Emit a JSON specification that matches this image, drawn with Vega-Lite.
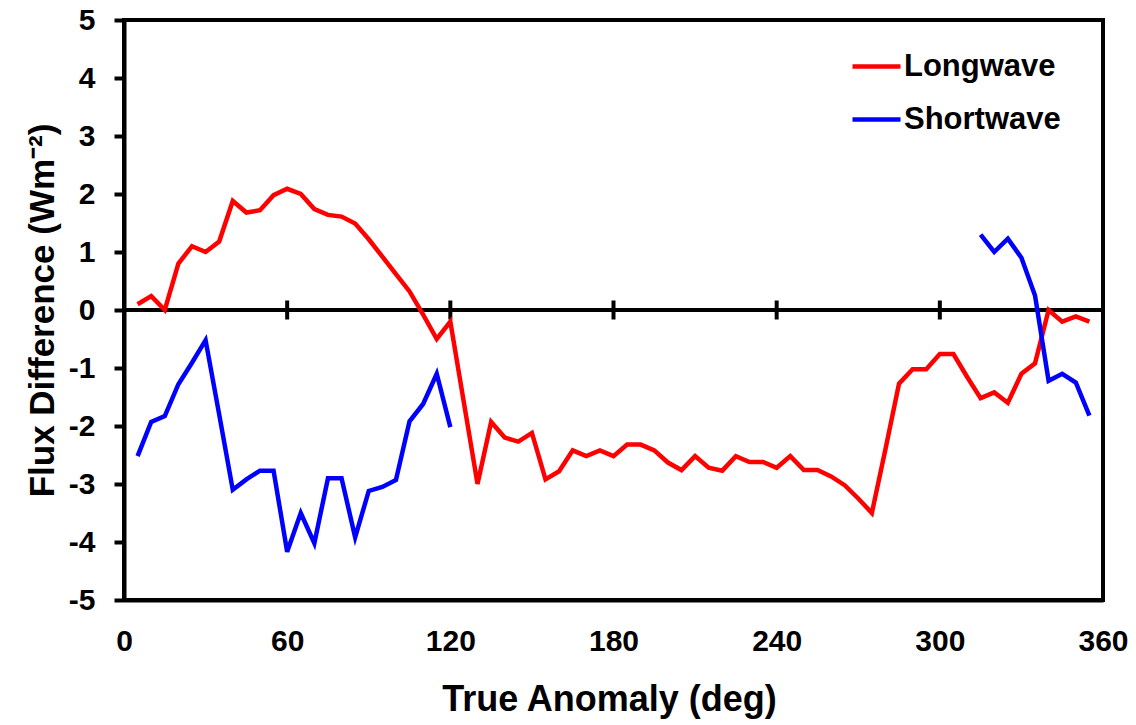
{
  "$schema": "https://vega.github.io/schema/vega-lite/v6.json",
  "width": 979,
  "height": 580,
  "autosize": {"type": "none"},
  "padding": {"left": 124, "top": 20, "right": 33, "bottom": 125},
  "background": "white",
  "config": {
    "view": {"stroke": "black", "strokeWidth": 4},
    "axis": {
      "grid": false,
      "domainColor": "black",
      "domainWidth": 4,
      "tickColor": "black",
      "tickWidth": 4,
      "labelFont": "Liberation Sans",
      "labelFontWeight": "bold",
      "labelFontSize": 30,
      "labelColor": "black",
      "titleFont": "Liberation Sans",
      "titleFontWeight": "bold",
      "titleColor": "black",
      "labelOverlap": false,
      "labelFlush": false
    },
    "legend": {
      "labelFont": "Liberation Sans",
      "labelFontWeight": "bold",
      "labelFontSize": 31,
      "labelColor": "black"
    }
  },
  "encoding": {
    "x": {
      "field": "x",
      "type": "quantitative",
      "scale": {"domain": [0, 360], "nice": false, "zero": false},
      "axis": {
        "title": "True Anomaly (deg)",
        "values": [0, 60, 120, 180, 240, 300, 360],
        "ticks": false,
        "tickSize": 0,
        "labelPadding": 26,
        "titleFontSize": 36,
        "titleBaseline": "alphabetic",
        "titleY": 110,
        "titleX": 485
      }
    },
    "y": {
      "field": "y",
      "type": "quantitative",
      "scale": {"domain": [-5, 5], "nice": false, "zero": false},
      "axis": {
        "title": "Flux Difference (Wm⁻²)",
        "values": [-5, -4, -3, -2, -1, 0, 1, 2, 3, 4, 5],
        "labelExpr": "'' + datum.value",
        "tickSize": 10,
        "labelPadding": 19,
        "titleFontSize": 35,
        "titleBaseline": "alphabetic",
        "titleAlign": "center",
        "titleAngle": -90,
        "titleX": -71,
        "titleY": 290
      }
    }
  },
  "layer": [
    {
      "data": {"values": [{"x": 0, "x2": 360, "y": 0}]},
      "mark": {"type": "rule", "color": "black", "strokeWidth": 4},
      "encoding": {"x2": {"field": "x2"}}
    },
    {
      "data": {"values": [{"x": 60, "y": 0}, {"x": 120, "y": 0}, {"x": 180, "y": 0}, {"x": 240, "y": 0}, {"x": 300, "y": 0}]},
      "mark": {"type": "tick", "orient": "vertical", "color": "black", "size": 19, "thickness": 4, "opacity": 1},
      "encoding": {}
    },
    {
      "data": {
        "values": [
          {"x": 5, "y": 0.1, "series": "Longwave", "seg": "L"},
          {"x": 10, "y": 0.24, "series": "Longwave", "seg": "L"},
          {"x": 15, "y": 0.0, "series": "Longwave", "seg": "L"},
          {"x": 20, "y": 0.8, "series": "Longwave", "seg": "L"},
          {"x": 25, "y": 1.1, "series": "Longwave", "seg": "L"},
          {"x": 30, "y": 1.0, "series": "Longwave", "seg": "L"},
          {"x": 35, "y": 1.18, "series": "Longwave", "seg": "L"},
          {"x": 40, "y": 1.88, "series": "Longwave", "seg": "L"},
          {"x": 45, "y": 1.68, "series": "Longwave", "seg": "L"},
          {"x": 50, "y": 1.72, "series": "Longwave", "seg": "L"},
          {"x": 55, "y": 1.98, "series": "Longwave", "seg": "L"},
          {"x": 60, "y": 2.09, "series": "Longwave", "seg": "L"},
          {"x": 65, "y": 2.0, "series": "Longwave", "seg": "L"},
          {"x": 70, "y": 1.74, "series": "Longwave", "seg": "L"},
          {"x": 75, "y": 1.64, "series": "Longwave", "seg": "L"},
          {"x": 80, "y": 1.61, "series": "Longwave", "seg": "L"},
          {"x": 85, "y": 1.49, "series": "Longwave", "seg": "L"},
          {"x": 90, "y": 1.22, "series": "Longwave", "seg": "L"},
          {"x": 95, "y": 0.92, "series": "Longwave", "seg": "L"},
          {"x": 100, "y": 0.62, "series": "Longwave", "seg": "L"},
          {"x": 105, "y": 0.32, "series": "Longwave", "seg": "L"},
          {"x": 110, "y": -0.08, "series": "Longwave", "seg": "L"},
          {"x": 115, "y": -0.5, "series": "Longwave", "seg": "L"},
          {"x": 120, "y": -0.2, "series": "Longwave", "seg": "L"},
          {"x": 125, "y": -1.6, "series": "Longwave", "seg": "L"},
          {"x": 130, "y": -3.0, "series": "Longwave", "seg": "L"},
          {"x": 135, "y": -1.93, "series": "Longwave", "seg": "L"},
          {"x": 140, "y": -2.2, "series": "Longwave", "seg": "L"},
          {"x": 145, "y": -2.27, "series": "Longwave", "seg": "L"},
          {"x": 150, "y": -2.12, "series": "Longwave", "seg": "L"},
          {"x": 155, "y": -2.92, "series": "Longwave", "seg": "L"},
          {"x": 160, "y": -2.78, "series": "Longwave", "seg": "L"},
          {"x": 165, "y": -2.42, "series": "Longwave", "seg": "L"},
          {"x": 170, "y": -2.52, "series": "Longwave", "seg": "L"},
          {"x": 175, "y": -2.42, "series": "Longwave", "seg": "L"},
          {"x": 180, "y": -2.52, "series": "Longwave", "seg": "L"},
          {"x": 185, "y": -2.32, "series": "Longwave", "seg": "L"},
          {"x": 190, "y": -2.32, "series": "Longwave", "seg": "L"},
          {"x": 195, "y": -2.42, "series": "Longwave", "seg": "L"},
          {"x": 200, "y": -2.63, "series": "Longwave", "seg": "L"},
          {"x": 205, "y": -2.76, "series": "Longwave", "seg": "L"},
          {"x": 210, "y": -2.52, "series": "Longwave", "seg": "L"},
          {"x": 215, "y": -2.72, "series": "Longwave", "seg": "L"},
          {"x": 220, "y": -2.77, "series": "Longwave", "seg": "L"},
          {"x": 225, "y": -2.52, "series": "Longwave", "seg": "L"},
          {"x": 230, "y": -2.62, "series": "Longwave", "seg": "L"},
          {"x": 235, "y": -2.62, "series": "Longwave", "seg": "L"},
          {"x": 240, "y": -2.72, "series": "Longwave", "seg": "L"},
          {"x": 245, "y": -2.52, "series": "Longwave", "seg": "L"},
          {"x": 250, "y": -2.76, "series": "Longwave", "seg": "L"},
          {"x": 255, "y": -2.76, "series": "Longwave", "seg": "L"},
          {"x": 260, "y": -2.87, "series": "Longwave", "seg": "L"},
          {"x": 265, "y": -3.02, "series": "Longwave", "seg": "L"},
          {"x": 270, "y": -3.25, "series": "Longwave", "seg": "L"},
          {"x": 275, "y": -3.5, "series": "Longwave", "seg": "L"},
          {"x": 280, "y": -2.4, "series": "Longwave", "seg": "L"},
          {"x": 285, "y": -1.27, "series": "Longwave", "seg": "L"},
          {"x": 290, "y": -1.02, "series": "Longwave", "seg": "L"},
          {"x": 295, "y": -1.02, "series": "Longwave", "seg": "L"},
          {"x": 300, "y": -0.76, "series": "Longwave", "seg": "L"},
          {"x": 305, "y": -0.76, "series": "Longwave", "seg": "L"},
          {"x": 310, "y": -1.15, "series": "Longwave", "seg": "L"},
          {"x": 315, "y": -1.52, "series": "Longwave", "seg": "L"},
          {"x": 320, "y": -1.42, "series": "Longwave", "seg": "L"},
          {"x": 325, "y": -1.6, "series": "Longwave", "seg": "L"},
          {"x": 330, "y": -1.1, "series": "Longwave", "seg": "L"},
          {"x": 335, "y": -0.92, "series": "Longwave", "seg": "L"},
          {"x": 340, "y": 0.0, "series": "Longwave", "seg": "L"},
          {"x": 345, "y": -0.2, "series": "Longwave", "seg": "L"},
          {"x": 350, "y": -0.11, "series": "Longwave", "seg": "L"},
          {"x": 355, "y": -0.2, "series": "Longwave", "seg": "L"},
          {"x": 5, "y": -2.52, "series": "Shortwave", "seg": "S1"},
          {"x": 10, "y": -1.93, "series": "Shortwave", "seg": "S1"},
          {"x": 15, "y": -1.83, "series": "Shortwave", "seg": "S1"},
          {"x": 20, "y": -1.28, "series": "Shortwave", "seg": "S1"},
          {"x": 25, "y": -0.91, "series": "Shortwave", "seg": "S1"},
          {"x": 30, "y": -0.52, "series": "Shortwave", "seg": "S1"},
          {"x": 35, "y": -1.8, "series": "Shortwave", "seg": "S1"},
          {"x": 40, "y": -3.1, "series": "Shortwave", "seg": "S1"},
          {"x": 45, "y": -2.92, "series": "Shortwave", "seg": "S1"},
          {"x": 50, "y": -2.77, "series": "Shortwave", "seg": "S1"},
          {"x": 55, "y": -2.77, "series": "Shortwave", "seg": "S1"},
          {"x": 60, "y": -4.17, "series": "Shortwave", "seg": "S1"},
          {"x": 65, "y": -3.5, "series": "Shortwave", "seg": "S1"},
          {"x": 70, "y": -4.02, "series": "Shortwave", "seg": "S1"},
          {"x": 75, "y": -2.9, "series": "Shortwave", "seg": "S1"},
          {"x": 80, "y": -2.9, "series": "Shortwave", "seg": "S1"},
          {"x": 85, "y": -3.92, "series": "Shortwave", "seg": "S1"},
          {"x": 90, "y": -3.12, "series": "Shortwave", "seg": "S1"},
          {"x": 95, "y": -3.05, "series": "Shortwave", "seg": "S1"},
          {"x": 100, "y": -2.93, "series": "Shortwave", "seg": "S1"},
          {"x": 105, "y": -1.92, "series": "Shortwave", "seg": "S1"},
          {"x": 110, "y": -1.62, "series": "Shortwave", "seg": "S1"},
          {"x": 115, "y": -1.1, "series": "Shortwave", "seg": "S1"},
          {"x": 120, "y": -2.02, "series": "Shortwave", "seg": "S1"},
          {"x": 315, "y": 1.3, "series": "Shortwave", "seg": "S2"},
          {"x": 320, "y": 1.0, "series": "Shortwave", "seg": "S2"},
          {"x": 325, "y": 1.23, "series": "Shortwave", "seg": "S2"},
          {"x": 330, "y": 0.9, "series": "Shortwave", "seg": "S2"},
          {"x": 335, "y": 0.25, "series": "Shortwave", "seg": "S2"},
          {"x": 340, "y": -1.22, "series": "Shortwave", "seg": "S2"},
          {"x": 345, "y": -1.1, "series": "Shortwave", "seg": "S2"},
          {"x": 350, "y": -1.25, "series": "Shortwave", "seg": "S2"},
          {"x": 355, "y": -1.82, "series": "Shortwave", "seg": "S2"}
        ]
      },
      "mark": {"type": "line", "strokeWidth": 4.5, "strokeJoin": "miter", "strokeCap": "butt"},
      "encoding": {
        "color": {
          "field": "series",
          "type": "nominal",
          "scale": {"domain": ["Longwave", "Shortwave"], "range": ["#FF0000", "#0000FF"]},
          "legend": {
            "title": null,
            "orient": "none",
            "legendX": 726,
            "legendY": 20,
            "padding": 0,
            "symbolType": "stroke",
            "symbolSize": 2304,
            "symbolStrokeWidth": 4.5,
            "labelOffset": 1,
            "rowPadding": 11
          }
        },
        "detail": {"field": "seg"}
      }
    }
  ]
}
